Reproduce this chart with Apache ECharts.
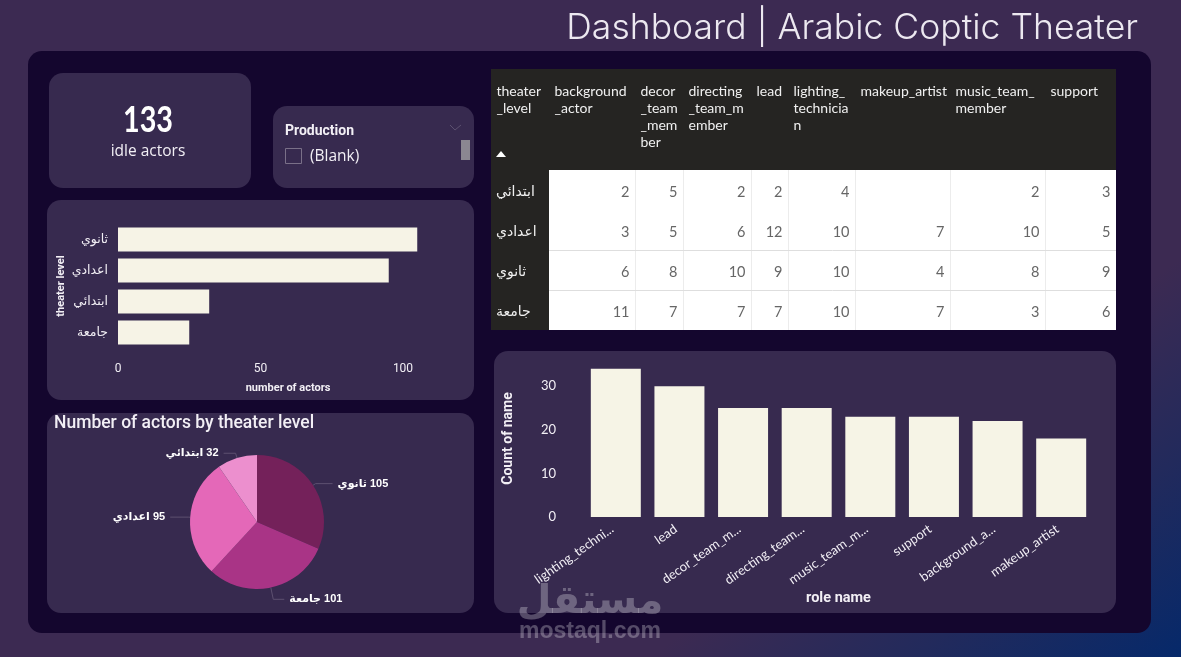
<!DOCTYPE html>
<html><head><meta charset="utf-8">
<style>html,body{margin:0;padding:0;background:#3c2a52;overflow:hidden}#c{width:1181px;height:657px}</style>
<script src="https://cdn.jsdelivr.net/npm/echarts@6/dist/echarts.min.js"></script>
</head><body><div id="c"></div>
<script>
// ---- data ----
const levelCategories = ['ثانوي', 'اعدادي', 'ابتدائي', 'جامعة'];
const levelActorCounts = [105, 95, 32, 25];
const pieLevels = ['ثانوي', 'جامعة', 'اعدادي', 'ابتدائي'];
const pieValues = [105, 101, 95, 32];
const roleCategories = ['lighting_technician', 'lead', 'decor_team_member', 'directing_team_member', 'music_team_member', 'support', 'background_actor', 'makeup_artist'];
const roleCounts = [34, 30, 25, 25, 23, 23, 22, 18];
const tableHeaders = [['theater', '_level'], ['background', '_actor'], ['decor', '_team', '_mem', 'ber'], ['directing', '_team_m', 'ember'], ['lead'], ['lighting_', 'technicia', 'n'], ['makeup_artist'], ['music_team_', 'member'], ['support']];
const tableRowNames = ['ابتدائي', 'اعدادي', 'ثانوي', 'جامعة'];
const rowPrimary = [2, 5, 2, 2, 4, null, 2, 3];
const rowMiddle = [3, 5, 6, 12, 10, 7, 10, 5];
const rowSecondary = [6, 8, 10, 9, 10, 4, 8, 9];
const rowUniversity = [11, 7, 7, 7, 10, 7, 3, 6];
const tableValues = [rowPrimary, rowMiddle, rowSecondary, rowUniversity];
const idleActors = 133;

// ---- layout ----
const colEdges = [491, 549, 635, 683, 751, 788, 855, 950, 1045, 1116];
const rowEdges = [170, 210, 250, 290, 330];
const pieColors = ['#74215a', '#a93486', '#e468b8', '#ec8fce'];
const pieLine1 = [3, 12, 2, 5];
const pieLine2 = [17, 11, 18, 12];
const ui = 'Roboto, "DejaVu Sans", sans-serif';
const tableFont = 'Lato, "DejaVu Sans", sans-serif';
const panel = '#372a4f';
const ink = '#f2eff5';
const g = [];
function rect(x, y, w, h, fill, r, z) { g.push({ type: 'rect', z: z || 0, shape: { x, y, width: w, height: h, r: r || 0 }, style: { fill } }); }
function text(x, y, t, font, fill, align, z, opacity, scaleX) { g.push({ type: 'text', z: z || 1, x, y, scaleX: scaleX || 1, style: { text: t, font, fill, align: align || 'left', verticalAlign: 'middle', opacity: opacity == null ? 1 : opacity } }); }

g.push({ type: 'rect', z: 0, shape: { x: 0, y: 0, width: 1181, height: 657 }, style: { fill: new echarts.graphic.LinearGradient(650, 657, 841, 911, [{ offset: 0, color: '#3c2a52' }, { offset: 0.5, color: '#222a5c' }, { offset: 1, color: '#06296a' }], true) } });
rect(28, 51, 1123, 582, '#14062e', 14);
rect(49, 73, 202, 115, panel, 14);
rect(273, 106, 201, 82, panel, 14);
rect(47, 200, 427, 200, panel, 14);
rect(47, 413, 427, 200, panel, 14);
rect(494, 351, 622, 262, panel, 14);

text(1138, 28, 'Dashboard | Arabic Coptic Theater', '300 35px Inter, sans-serif', '#ece8f0', 'right', 1, 1, 1.015);
text(148, 120, String(idleActors), '700 36px Lato, sans-serif', '#ffffff', 'center', 1, 1, 0.8);
text(148, 152, 'idle actors', '400 15.5px "Open Sans", sans-serif', ink, 'center');
text(285, 131, 'Production', '700 14px ' + ui, ink);
text(310, 157, '(Blank)', '400 15.5px "Open Sans", sans-serif', ink);
g.push({ type: 'rect', z: 1, shape: { x: 285.5, y: 148.5, width: 16, height: 15 }, style: { fill: 'none', stroke: '#7a7088', lineWidth: 1 } });
g.push({ type: 'polyline', z: 1, shape: { points: [[450, 125], [455, 130], [461, 125]] }, style: { fill: 'none', stroke: '#5c5170', lineWidth: 1 } });
rect(461, 140, 9, 20, '#8b8791', 0, 1);
text(54, 424, 'Number of actors by theater level', '500 17.5px ' + ui, ink);

// table, from the arrays above
rect(491, 69, 625, 101, '#252422', 0, 1);
rect(491, 170, 58, 160, '#252422', 0, 1);
rect(549, 170, 567, 160, '#ffffff', 0, 1);
tableHeaders.forEach((lines, c) => lines.forEach((l, i) => text(colEdges[c] + 5.5, 91 + i * 17.3, l, '400 14px ' + tableFont, '#f0f0f0', 'left', 2)));
g.push({ type: 'polygon', z: 2, shape: { points: [[496, 157], [506, 157], [501, 151]] }, style: { fill: '#ffffff' } });
tableRowNames.forEach((n, r) => text(496, (rowEdges[r] + rowEdges[r + 1]) / 2 + 2, n, '400 14px "DejaVu Sans", sans-serif', '#f0f0f0', 'left', 2));
for (let c = 2; c < colEdges.length - 1; c++) g.push({ type: 'line', z: 2, shape: { x1: colEdges[c] + .5, y1: 170, x2: colEdges[c] + .5, y2: 330 }, style: { stroke: '#ececec', lineWidth: 1 } });
[250, 290].forEach(y => g.push({ type: 'line', z: 2, shape: { x1: 549, y1: y + .5, x2: 1116, y2: y + .5 }, style: { stroke: '#dedede', lineWidth: 1 } }));
tableValues.forEach((row, r) => row.forEach((v, c) => { if (v != null) text(colEdges[c + 2] - 5.5, (rowEdges[r] + rowEdges[r + 1]) / 2 + 2, String(v), '400 14.5px ' + tableFont, '#666666', 'right', 3); }));

// watermark
text(590, 603, 'مستقل', '700 40px "DejaVu Sans", sans-serif', '#ffffff', 'center', 100, 0.28);
text(590, 632, 'mostaql.com', '700 23px "Liberation Sans", sans-serif', '#ffffff', 'center', 100, 0.28);

const chart = echarts.init(document.getElementById('c'), null, { renderer: 'canvas' });
chart.setOption({
  animation: false,
  graphic: { elements: g },
  grid: [
    { left: 118, top: 224, width: 340, height: 124 },
    { left: 584, top: 360, width: 509, height: 157 }
  ],
  xAxis: [
    { gridIndex: 0, type: 'value', min: 0, max: 119.3, interval: 50, splitLine: { show: false }, axisLine: { show: false }, axisTick: { show: false },
      axisLabel: { showMaxLabel: false, color: ink, fontFamily: 'Roboto', fontSize: 12, margin: 15 },
      name: 'number of actors', nameLocation: 'middle', nameGap: 35, nameTextStyle: { color: ink, fontFamily: 'Roboto', fontWeight: 700, fontSize: 11 } },
    { gridIndex: 1, type: 'category', data: roleCategories, axisLine: { show: false }, axisTick: { show: false },
      axisLabel: { rotate: 35, color: ink, fontFamily: 'Lato', fontSize: 13, margin: 16, verticalAlign: 'bottom', interval: 0, width: 95, overflow: 'truncate', ellipsis: '...' },
      name: 'role name', nameLocation: 'middle', nameGap: 74, nameTextStyle: { color: ink, fontFamily: 'Roboto', fontWeight: 700, fontSize: 14.5 } }
  ],
  yAxis: [
    { gridIndex: 0, type: 'category', inverse: true, data: levelCategories, axisLine: { show: false }, axisTick: { show: false },
      axisLabel: { color: ink, fontFamily: '"DejaVu Sans"', fontSize: 12.5, margin: 10, padding: [3, 0, 0, 0] },
      name: 'theater level', nameLocation: 'middle', nameGap: 51, nameRotate: 90, nameTextStyle: { color: ink, fontFamily: 'Roboto', fontWeight: 700, fontSize: 11 } },
    { gridIndex: 1, type: 'value', min: 0, max: 36, interval: 10, splitLine: { show: false }, axisLine: { show: false }, axisTick: { show: false },
      axisLabel: { showMaxLabel: false, color: ink, fontFamily: 'Lato', fontSize: 13, margin: 28 },
      name: 'Count of name', nameLocation: 'middle', nameGap: 69, nameRotate: 90, nameTextStyle: { color: ink, fontFamily: 'Roboto', fontWeight: 700, fontSize: 14 } }
  ],
  series: [
    { type: 'bar', xAxisIndex: 0, yAxisIndex: 0, data: levelActorCounts, barWidth: 24, itemStyle: { color: '#f6f3e6' } },
    { type: 'bar', xAxisIndex: 1, yAxisIndex: 1, data: roleCounts, barWidth: 50, itemStyle: { color: '#f6f4e6' } },
    { type: 'pie', center: [257, 522], radius: 67, startAngle: 90, clockwise: true,
      data: pieLevels.map((name, i) => ({ name, value: pieValues[i], itemStyle: { color: pieColors[i] }, labelLine: { length: pieLine1[i], length2: pieLine2[i] } })),
      label: { formatter: p => p.name + '\u200E ' + p.value, color: '#ffffff', fontFamily: '"Liberation Sans", "DejaVu Sans"', fontWeight: 700, fontSize: 11 },
      labelLine: { lineStyle: { color: '#5d5070', width: 1 } } }
  ]
});
</script></body></html>
